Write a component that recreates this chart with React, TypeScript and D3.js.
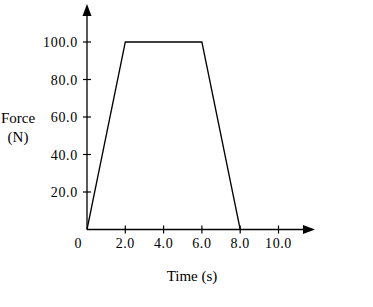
import React from "react";
import * as d3 from "d3";

const times = [0, 2, 6, 8];
const forces = [0, 100, 100, 0];
const xTicks = [2, 4, 6, 8, 10];
const xTickLabels = ["2.0", "4.0", "6.0", "8.0", "10.0"];
const yTicks = [20, 40, 60, 80, 100];
const yTickLabels = ["20.0", "40.0", "60.0", "80.0", "100.0"];

export default function App() {
  const W = 373, H = 307;
  const x = d3.scaleLinear().domain([0, 10]).range([87, 278.5]);
  const y = d3.scaleLinear().domain([0, 100]).range([229.5, 42]);
  const line = d3.line<number>().x((_, i) => x(times[i])).y((d) => y(d));
  const font = "'Liberation Serif', 'Times New Roman', serif";
  const fs = 14;
  const ox = x(0), oy = y(0);
  return (
    <svg width={W} height={H} style={{ position: "absolute", left: 0, top: 0, background: "#fff" }}
      fontFamily={font} fontSize={fs}>
      <rect width={W} height={H} fill="#fff" />
      {/* axes */}
      <line x1={ox} y1={oy} x2={306} y2={oy} stroke="#000" strokeWidth={1.3} />
      <path d={`M315,${oy} L303,${oy - 4.5} L303,${oy + 4.5} Z`} fill="#000" />
      <line x1={ox} y1={oy} x2={ox} y2={14} stroke="#000" strokeWidth={1.3} />
      <path d={`M${ox},4 L${ox - 4.5},16 L${ox + 4.5},16 Z`} fill="#000" />
      {xTicks.map((t, i) => (
        <g key={"x" + t}>
          <line x1={x(t)} x2={x(t)} y1={oy - 4} y2={oy + 4} stroke="#000" strokeWidth={1.2} />
          <text x={x(t)} y={oy + 18} textAnchor="middle" letterSpacing={0.6}>{xTickLabels[i]}</text>
        </g>
      ))}
      <text x={78} y={oy + 18} textAnchor="middle">0</text>
      {yTicks.map((t, i) => (
        <g key={"y" + t}>
          <line x1={ox - 4} x2={ox + 4} y1={y(t)} y2={y(t)} stroke="#000" strokeWidth={1.2} />
          <text x={78} y={y(t) + 5} textAnchor="end" letterSpacing={0.7}>{yTickLabels[i]}</text>
        </g>
      ))}
      <path d={line(forces) || ""} fill="none" stroke="#000" strokeWidth={1.3} />
      <text x={18} y={123} textAnchor="middle" fontSize={15}>Force</text>
      <text x={18} y={142} textAnchor="middle" fontSize={15}>(N)</text>
      <text x={192} y={281} textAnchor="middle" fontSize={15}>Time (s)</text>
    </svg>
  );
}
